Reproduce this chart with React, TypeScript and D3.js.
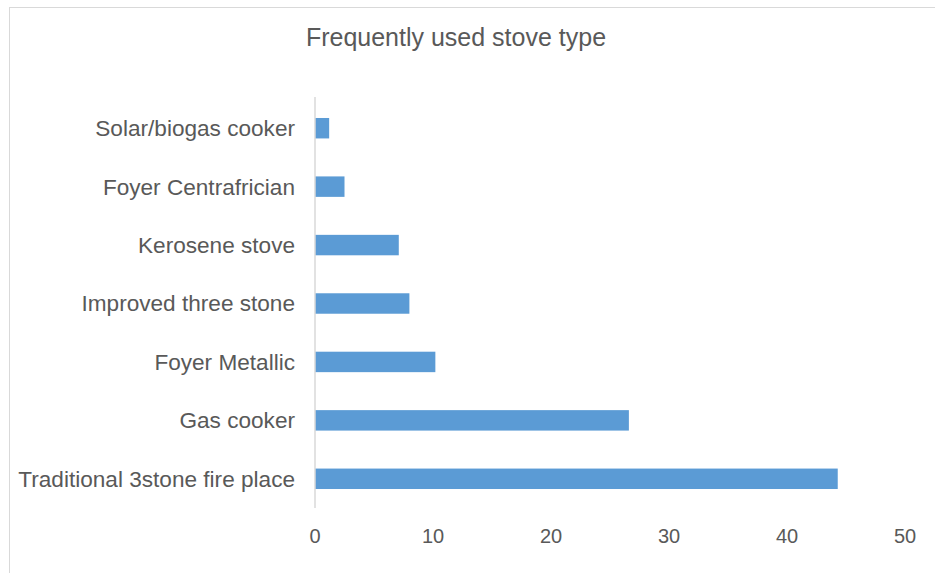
import React from 'react';
import * as d3 from 'd3';

// chart data
const categories = [
  'Solar/biogas cooker',
  'Foyer Centrafrician',
  'Kerosene stove',
  'Improved three stone',
  'Foyer Metallic',
  'Gas cooker',
  'Traditional 3stone fire place',
];
const values = [1.2, 2.5, 7.1, 8.0, 10.2, 26.6, 44.3];
const xTicks = [0, 10, 20, 30, 40, 50];
const title = 'Frequently used stove type';

const W = 935;
const H = 573;
const textColor = '#595959';
const font = '"Liberation Sans", Arial, sans-serif';

const App: React.FC = () => {
  // scales
  const x = d3.scaleLinear().domain([0, 50]).range([315, 905]);
  const y = d3.scaleBand<string>().domain(categories).range([99, 508]).padding(0);
  const barH = y.bandwidth() * 0.35;

  return (
    <svg
      width={W}
      height={H}
      style={{ position: 'absolute', left: 0, top: 0, background: '#fff' }}
      fontFamily={font}
    >
      {/* chart area border */}
      <rect x={9.5} y={7.5} width={W + 20} height={H + 20} fill="#fff" stroke="#d9d9d9" strokeWidth={1} />

      <text x={456} y={39} textAnchor="middle" dominantBaseline="middle" fontSize={25} fill={textColor}>
        {title}
      </text>

      {/* bars */}
      {categories.map((c, i) => (
        <rect
          key={c}
          x={x(0)}
          y={(y(c) as number) + (y.bandwidth() - barH) / 2}
          width={x(values[i]) - x(0)}
          height={barH}
          fill="#5b9bd5"
        />
      ))}

      {/* vertical axis line */}
      <line x1={x(0)} x2={x(0)} y1={97} y2={508} stroke="#d9d9d9" strokeWidth={1.5} />

      {/* category labels */}
      {categories.map((c) => (
        <text
          key={c}
          x={295}
          y={(y(c) as number) + y.bandwidth() / 2 + 2}
          textAnchor="end"
          dominantBaseline="middle"
          fontSize={22.6}
          fill={textColor}
        >
          {c}
        </text>
      ))}

      {/* x tick labels */}
      {xTicks.map((t) => (
        <text key={t} x={x(t)} y={538} textAnchor="middle" dominantBaseline="middle" fontSize={20} fill={textColor}>
          {t}
        </text>
      ))}
    </svg>
  );
};

export default App;
